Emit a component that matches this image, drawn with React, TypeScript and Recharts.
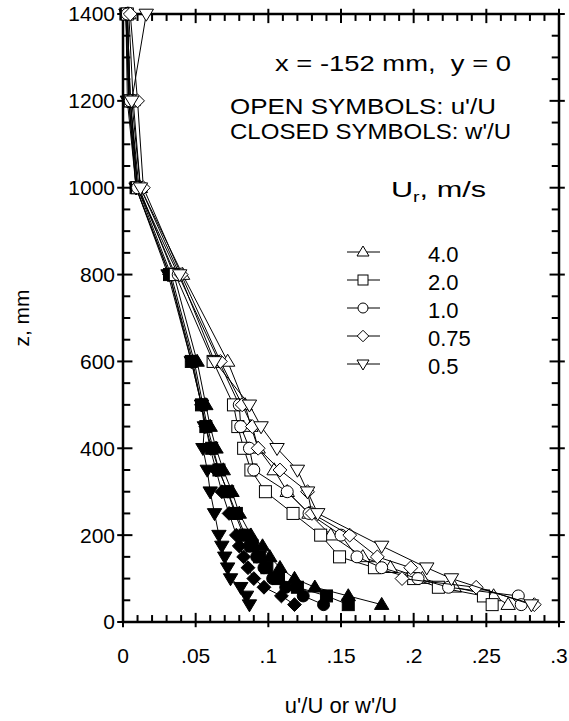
import React from "react";
import { ScatterChart, Scatter, XAxis, YAxis, ReferenceLine } from "recharts";

// heights above floor, mm
const zFull = [1400, 1200, 1000, 800, 600, 500, 450, 400, 350, 300, 250, 200, 175, 150, 125, 100, 80, 60, 40];
const zOpen = [1400, 1200, 1000, 800, 600, 500, 450, 400, 350, 300, 250, 200, 150, 125, 100, 80, 60, 40];
const zOpen075 = [1400, 1200, 1000, 800, 600, 500, 450, 400, 350, 300, 250, 200, 150, 125, 100, 80, 40];
const zOpen05 = [1400, 1200, 1000, 800, 600, 500, 450, 400, 350, 300, 250, 175, 125, 100, 40];

// u'/U (open symbols)
const u40 = [0.004, 0.007, 0.012, 0.041, 0.072, 0.084, 0.088, 0.093, 0.104, 0.113, 0.128, 0.143, 0.165, 0.184, 0.206, 0.228, 0.255, 0.265];
const u20 = [0.003, 0.005, 0.01, 0.036, 0.062, 0.076, 0.079, 0.083, 0.088, 0.098, 0.117, 0.136, 0.149, 0.173, 0.2, 0.217, 0.248, 0.254];
const u10 = [0.003, 0.005, 0.01, 0.038, 0.066, 0.08, 0.081, 0.087, 0.09, 0.113, 0.128, 0.15, 0.161, 0.178, 0.203, 0.224, 0.272, 0.274];
const u075 = [0.005, 0.01, 0.014, 0.04, 0.067, 0.082, 0.089, 0.093, 0.108, 0.127, 0.13, 0.156, 0.175, 0.198, 0.192, 0.243, 0.283];
const u05 = [0.016, 0.006, 0.012, 0.039, 0.063, 0.087, 0.095, 0.106, 0.12, 0.127, 0.134, 0.178, 0.209, 0.226, 0.281];

// w'/U (closed symbols)
const w40 = [0.003, 0.005, 0.011, 0.035, 0.051, 0.057, 0.06, 0.064, 0.069, 0.075, 0.08, 0.088, 0.096, 0.101, 0.108, 0.118, 0.132, 0.155, 0.178];
const w20 = [0.002, 0.004, 0.009, 0.032, 0.047, 0.054, 0.057, 0.061, 0.066, 0.072, 0.078, 0.084, 0.089, 0.094, 0.099, 0.107, 0.12, 0.14, 0.155];
const w10 = [0.003, 0.004, 0.01, 0.033, 0.049, 0.055, 0.058, 0.062, 0.066, 0.072, 0.077, 0.083, 0.087, 0.092, 0.097, 0.103, 0.112, 0.124, 0.138];
const w075 = [0.002, 0.004, 0.009, 0.032, 0.048, 0.054, 0.057, 0.06, 0.064, 0.068, 0.073, 0.078, 0.08, 0.083, 0.086, 0.09, 0.097, 0.109, 0.118];
const w05 = [0.002, 0.003, 0.009, 0.031, 0.047, 0.054, 0.056, 0.055, 0.058, 0.06, 0.063, 0.066, 0.068, 0.07, 0.072, 0.074, 0.081, 0.085, 0.087];

const speeds = ["4.0", "2.0", "1.0", "0.75", "0.5"];
const xTicks = [0, 0.05, 0.1, 0.15, 0.2, 0.25, 0.3];
const yTicks = [0, 200, 400, 600, 800, 1000, 1200, 1400];
const xMinor = Array.from({ length: 31 }, (_, i) => i / 100);
const yMinor = Array.from({ length: 29 }, (_, i) => i * 50);

type Kind = "up" | "square" | "circle" | "diamond" | "down";
const kinds: Kind[] = ["up", "square", "circle", "diamond", "down"];

const FONT = "'Liberation Sans', Arial, Helvetica, sans-serif";
const INK = "#000";

function Marker({ kind, cx, cy, r, filled }: { kind: Kind; cx: number; cy: number; r: number; filled: boolean }) {
  const p = { fill: filled ? INK : "#fff", stroke: INK, strokeWidth: 1 };
  if (kind === "circle") return <circle cx={cx} cy={cy} r={r} {...p} />;
  if (kind === "square") return <rect x={cx - r} y={cy - r} width={2 * r} height={2 * r} {...p} />;
  if (kind === "diamond")
    return <polygon points={`${cx},${cy - r * 1.15} ${cx + r * 1.15},${cy} ${cx},${cy + r * 1.15} ${cx - r * 1.15},${cy}`} {...p} />;
  if (kind === "up")
    return <polygon points={`${cx},${cy - r * 1.2} ${cx + r * 1.2},${cy + r * 0.8} ${cx - r * 1.2},${cy + r * 0.8}`} {...p} />;
  return <polygon points={`${cx},${cy + r * 1.2} ${cx + r * 1.2},${cy - r * 0.8} ${cx - r * 1.2},${cy - r * 0.8}`} {...p} />;
}

const shapeFor = (kind: Kind, filled: boolean) => (props: any) =>
  <Marker kind={kind} cx={props.cx} cy={props.cy} r={6} filled={filled} />;

const zip = (z: number[], v: number[]) => z.map((zz, i) => ({ v: v[i], z: zz }));

const openSeries = [zip(zOpen, u40), zip(zOpen, u20), zip(zOpen, u10), zip(zOpen075, u075), zip(zOpen05, u05)];
const closedSeries = [zip(zFull, w40), zip(zFull, w20), zip(zFull, w10), zip(zFull, w075), zip(zFull, w05)];

const fmtX = (v: number) => (v === 0 ? "0" : String(v).replace(/^0/, ""));

// tick marks: short reference segments in data units (x: 0.01 ≈ 14.5px, z: 10 mm ≈ 4.3px)
const isMajorX = (v: number) => xTicks.some((t) => Math.abs(t - v) < 1e-9);
const isMajorY = (z: number) => yTicks.includes(z);
const tk = { stroke: INK, strokeWidth: 2 };

const tickText = { fontSize: 21, fill: INK, fontFamily: FONT };
const frame = { stroke: INK, strokeWidth: 2.5 };

export default function App() {
  return (
    <div style={{ position: "absolute", left: 0, top: 0, width: 569, height: 721, background: "#fff", fontFamily: FONT }}>
      <ScatterChart width={569} height={721} margin={{ top: 14, right: 10, bottom: 0, left: 63 }}>
        <XAxis
          type="number"
          dataKey="v"
          domain={[0, 0.3]}
          ticks={xTicks}
          interval={0}
          tickFormatter={fmtX}
          tick={tickText}
          tickSize={5}
          tickMargin={21}
          height={99}
          axisLine={frame}
          tickLine={false}
        />
        <YAxis
          type="number"
          dataKey="z"
          domain={[0, 1400]}
          ticks={yTicks}
          interval={0}
          tick={tickText}
          tickSize={5}
          tickMargin={3}
          width={60}
          axisLine={frame}
          tickLine={false}
        />

        <ReferenceLine y={1400} stroke={INK} strokeWidth={2.5} ifOverflow="visible" />
        <ReferenceLine x={0.3} stroke={INK} strokeWidth={2.5} ifOverflow="visible" />
        {xMinor.map((v) => {
          const m = isMajorX(v);
          return (
            <React.Fragment key={"x" + v}>
              <ReferenceLine segment={[{ x: v, y: m ? -12 : 0 }, { x: v, y: m ? 21 : 16 }]} {...tk} ifOverflow="visible" />
              <ReferenceLine segment={[{ x: v, y: 1400 - (m ? 21 : 16) }, { x: v, y: m ? 1412 : 1400 }]} {...tk} ifOverflow="visible" />
            </React.Fragment>
          );
        })}
        {yMinor.map((z) => {
          const m = isMajorY(z);
          return (
            <React.Fragment key={"y" + z}>
              <ReferenceLine segment={[{ x: m ? -0.004 : 0, y: z }, { x: m ? 0.0065 : 0.005, y: z }]} {...tk} ifOverflow="visible" />
              <ReferenceLine segment={[{ x: 0.3 - (m ? 0.0065 : 0.005), y: z }, { x: m ? 0.304 : 0.3, y: z }]} {...tk} ifOverflow="visible" />
            </React.Fragment>
          );
        })}

        {closedSeries.map((d, i) => (
          <Scatter
            key={"w" + i}
            name={"w " + speeds[i]}
            data={d}
            line={{ stroke: INK, strokeWidth: 1 }}
            lineType="joint"
            shape={shapeFor(kinds[i], true)}
            isAnimationActive={false}
          />
        ))}
        {openSeries.map((d, i) => (
          <Scatter
            key={"u" + i}
            name={"u " + speeds[i]}
            data={d}
            line={{ stroke: INK, strokeWidth: 1 }}
            lineType="joint"
            shape={shapeFor(kinds[i], false)}
            isAnimationActive={false}
          />
        ))}
      </ScatterChart>

      <svg width={569} height={721} style={{ position: "absolute", left: 0, top: 0, pointerEvents: "none" }} fontFamily={FONT} fill={INK}>
        <text x={275} y={71} fontSize={22} textLength={236} lengthAdjust="spacingAndGlyphs">x = -152 mm,{"\u00A0 "}y = 0</text>
        <text x={230} y={114} fontSize={22} textLength={266} lengthAdjust="spacingAndGlyphs">OPEN SYMBOLS: u'/U</text>
        <text x={230} y={139} fontSize={22} textLength={281} lengthAdjust="spacingAndGlyphs">CLOSED SYMBOLS: w'/U</text>
        <text x={391} y={197} fontSize={22} textLength={95} lengthAdjust="spacingAndGlyphs">
          U<tspan fontSize={14} dy={5}>r</tspan>
          <tspan dy={-5}>, m/s</tspan>
        </text>
        {speeds.map((s, i) => {
          const cy = 252 + i * 28;
          return (
            <g key={s}>
              <line x1={347} x2={380} y1={cy} y2={cy} stroke={INK} strokeWidth={1} />
              <Marker kind={kinds[i]} cx={363} cy={cy} r={5} filled={false} />
              <text x={428} y={cy + 10} fontSize={22}>{s}</text>
            </g>
          );
        })}
        <text transform="translate(29,318) rotate(-90)" textAnchor="middle" fontSize={21}>z, mm</text>
        <text x={341} y={713} textAnchor="middle" fontSize={22}>u'/U or w'/U</text>
      </svg>
    </div>
  );
}
